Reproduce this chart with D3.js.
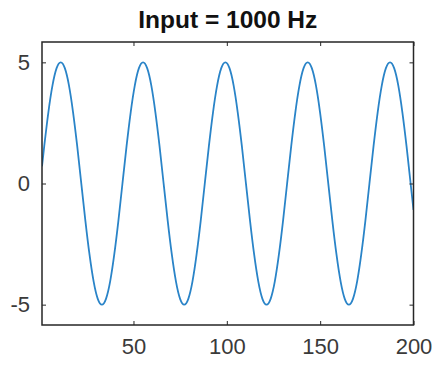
<!DOCTYPE html>
<html><head><meta charset="utf-8">
<script src="https://cdn.jsdelivr.net/npm/d3@7"></script>
<style>body{margin:0;background:#fff;}svg{display:block;}</style>
</head><body>
<script>
const titleText = "Input = 1000 Hz";
const xTicks = [50, 100, 150, 200];
const yTicks = [-5, 0, 5];
const sampleX = [1,2.21,4.41,6.62,8.82,11.03,13.23,15.44,17.64,19.85,22.05,24.26,26.46,28.67,30.87,33.08,35.28,37.49,39.69,41.90,44.10,
46.31,48.51,50.72,52.92,55.13,57.33,59.54,61.74,63.95,66.15,68.36,70.56,72.77,74.97,77.18,79.38,81.59,83.79,86.00,88.20,
90.41,92.61,94.82,97.02,99.23,101.43,103.64,105.84,108.05,110.25,112.46,114.66,116.87,119.07,121.28,123.48,125.69,127.89,130.10,132.30,
134.51,136.71,138.92,141.12,143.33,145.53,147.74,149.94,152.15,154.35,156.56,158.76,160.97,163.17,165.38,167.58,169.79,171.99,174.20,176.40,
178.61,180.81,183.02,185.22,187.43,189.63,191.84,194.04,196.25,198.45,200];
const sampleY = [0.71,1.55,2.94,4.05,4.76,5,4.76,4.05,2.94,1.55,0,-1.55,-2.94,-4.05,-4.76,-5,-4.76,-4.05,-2.94,-1.55,0,
1.55,2.94,4.05,4.76,5,4.76,4.05,2.94,1.55,0,-1.55,-2.94,-4.05,-4.76,-5,-4.76,-4.05,-2.94,-1.55,0,
1.55,2.94,4.05,4.76,5,4.76,4.05,2.94,1.55,0,-1.55,-2.94,-4.05,-4.76,-5,-4.76,-4.05,-2.94,-1.55,0,
1.55,2.94,4.05,4.76,5,4.76,4.05,2.94,1.55,0,-1.55,-2.94,-4.05,-4.76,-5,-4.76,-4.05,-2.94,-1.55,0,
1.55,2.94,4.05,4.76,5,4.76,4.05,2.94,1.55,0,-1.09];

const W = 438, H = 370;
const L = 42, R = 413.5, T = 42, B = 325;
const axisColor = "#262626";
const labelColor = "#3a3a3a";
const font = "'Liberation Sans', Arial, Helvetica, sans-serif";

const svg = d3.select("body").append("svg").attr("width", W).attr("height", H);
const x = d3.scaleLinear().domain([1, 200]).range([L, R]);
const y = d3.scaleLinear().domain([-5.84, 5.84]).range([B, T]);

const data = sampleX.map((v, i) => [v, sampleY[i]]);

svg.append("defs").append("clipPath").attr("id", "clip")
  .append("rect").attr("x", L).attr("y", T).attr("width", R - L).attr("height", B - T);

svg.append("path").datum(data)
  .attr("clip-path", "url(#clip)")
  .attr("fill", "none").attr("stroke", "#2a84c8").attr("stroke-width", 1.8)
  .attr("d", d3.line().x(d => x(d[0])).y(d => y(d[1])).curve(d3.curveNatural));

const tl = 4;
function styleAxis(g) {
  g.select(".domain").remove();
  g.selectAll(".tick line").attr("stroke", axisColor).attr("stroke-width", 1);
  g.selectAll("text").attr("fill", labelColor).style("font-family", font).style("font-size", "22px");
}
svg.append("g").attr("transform", `translate(0,${B})`)
  .call(d3.axisBottom(x).tickValues(xTicks).tickSizeInner(-tl).tickSizeOuter(0).tickPadding(13))
  .call(styleAxis);
svg.append("g").attr("transform", `translate(0,${T})`)
  .call(d3.axisTop(x).tickValues(xTicks).tickSizeInner(-tl).tickSizeOuter(0).tickFormat(""))
  .call(styleAxis);
svg.append("g").attr("transform", `translate(${L},0)`)
  .call(d3.axisLeft(y).tickValues(yTicks).tickSizeInner(-tl).tickSizeOuter(0).tickPadding(12).tickFormat(d => d < 0 ? "-" + Math.abs(d) : d))
  .call(styleAxis);
svg.append("g").attr("transform", `translate(${R},0)`)
  .call(d3.axisRight(y).tickValues(yTicks).tickSizeInner(-tl).tickSizeOuter(0).tickFormat(""))
  .call(styleAxis);

svg.append("rect").attr("x", L).attr("y", T).attr("width", R - L).attr("height", B - T)
  .attr("fill", "none").attr("stroke", axisColor).attr("stroke-width", 1.5);

svg.append("text").attr("x", (L + R) / 2).attr("y", 28)
  .attr("text-anchor", "middle").attr("fill", "#111")
  .style("font-family", font).style("font-size", "24.5px").style("font-weight", "bold")
  .text(titleText);
</script>
</body></html>
